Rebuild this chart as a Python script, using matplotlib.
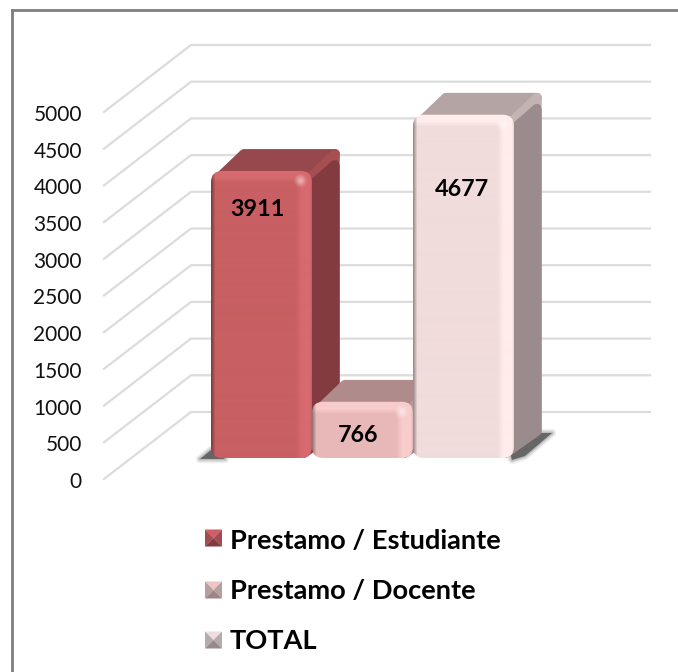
# 3D style bar chart, Prestamo
import numpy as np
import matplotlib.pyplot as plt
from matplotlib.patches import FancyBboxPatch, Polygon
from matplotlib.colors import to_rgb

categorias = ["Prestamo / Estudiante", "Prestamo / Docente", "TOTAL"]
valores = [3911, 766, 4677]
ticks = [0, 500, 1000, 1500, 2000, 2500, 3000, 3500, 4000, 4500, 5000]
frente = ["#C75F63", "#E8B8B8", "#F0DCDB"]
brillo = ["#D66A6E", "#F8CCCC", "#FFECEB"]
lado = ["#833B3F", "#9C7C7C", "#9A8C8C"]
arriba = ["#97484C", "#AF8B8B", "#B5A4A4"]
franja = ["#A64F53", "#BC9999", "#C4B3B3"]
leg_sup = ["#CF5F63", "#EFC4C4", "#EFDEDE"]
leg_lat = ["#A04C50", "#B5A0A0", "#B5ABAB"]
leg_inf = ["#7F3A3E", "#9D8585", "#978A8A"]

plt.rcParams["font.family"] = "Lato"

W, H = 678, 672
PX = 0.0734  # pixels per unit on the value axis
BASE = 458
fig = plt.figure(figsize=(W / 100, H / 100), dpi=100)
ax = fig.add_axes([0, 0, 1, 1])
ax.axis("off")

# conversions between picture pixels and data
def X(px):
    return (px - 261.5) / 101
def Y(py):
    return (BASE - py) / PX

asp = (1 / PX) / (1 / 101)
ux = 1 / 101
uy = 1 / PX

# frame, only top and left
ax.plot([X(12), X(678)], [Y(10), Y(10)], color="#7f7f7f", lw=2, zorder=1)
ax.plot([X(12), X(12)], [Y(10), Y(672)], color="#7f7f7f", lw=2, zorder=1)

# grid
for t in ticks:
    f = Y(479) + t
    b = Y(412) + t
    ax.plot([X(104), X(191), X(650)], [f, b, b], color="#DCDCDC", lw=1.6, zorder=2)
    ax.text(X(82), f - 3 * uy, str(t), ha="right", va="center", fontsize=15, color="#111111", zorder=9)

# floor shadow, soft edge from stacked strokes
sombra = [[(200, 459), (211, 450), (225, 459)], [(512, 460), (525, 456), (552, 433), (535, 433), (510, 452)]]
for pts in sombra:
    xy = [(X(a), Y(b)) for a, b in pts]
    for lw, al in [(6, 0.08), (4, 0.12), (2, 0.2)]:
        ax.add_patch(Polygon(xy, closed=True, fc="none", ec="#444444", lw=lw, alpha=al, joinstyle="round", zorder=3))
    ax.add_patch(Polygon(xy, closed=True, fc="#666666", ec="none", zorder=3))


def shade(w, h, i):
    # bevel on the front face, soft light bands and dark left edge
    yy, xx = np.mgrid[0:h, 0:w]
    f = np.array(to_rgb(frente[i]))
    l = np.array(to_rgb(brillo[i]))
    k = np.maximum(np.clip((12 - yy) / 5, 0, 1), np.clip((xx - (w - 17)) / 6, 0, 1))
    img = f + (l - f) * k[..., None]
    dark = np.clip((4 - xx) / 4, 0, 1) * 0.35
    img = img * (1 - dark[..., None])
    edge = np.clip((xx - (w - 3)) / 3, 0, 1) * 0.1
    img = img * (1 - edge[..., None])
    # small bright spot at the upper right corner
    d = np.hypot(xx - (w - 12), yy - 10)
    spot = np.clip((7 - d) / 6, 0, 1) * 0.45
    img = img + (1 - img) * spot[..., None]
    return np.clip(img, 0, 1)


dx = 28 * ux
dy = 22 * uy
ins_x = 5 * ux
ins_y = 5 * uy
for i, v in enumerate(valores):
    x0, x1 = i - 0.5, i + 0.5
    z = 4 + i
    # top face
    ax.add_patch(Polygon([(x0 + 2 * ins_x, v - ins_y), (x0 + dx + ins_x, v + dy - ins_y), (x1 + dx - ins_x, v + dy - ins_y), (x1, v - ins_y)],
                         closed=True, fc=arriba[i], ec=arriba[i], lw=7, joinstyle="round", zorder=z))
    # lighter strip between top and side
    ax.add_patch(Polygon([(x1, v - ins_y), (x1 + dx - ins_x, v + dy - ins_y), (x1 + dx - ins_x, v + dy - 12 * uy), (x1, v - 12 * uy)],
                         closed=True, fc=franja[i], ec=franja[i], lw=7, joinstyle="round", zorder=z))
    # side face
    ax.add_patch(Polygon([(x1 - 8 * ux, ins_y), (x1 + dx - ins_x, dy + ins_y), (x1 + dx - ins_x, v + dy - 16 * uy), (x1, v - 14 * uy)],
                         closed=True, fc=lado[i], ec=lado[i], lw=7, joinstyle="round", zorder=z + 0.1))
    # front face
    box = FancyBboxPatch((x0, 0), 1, v, boxstyle="round,pad=0,rounding_size=0.11", mutation_aspect=asp,
                         fc="none", ec="none", zorder=z + 0.2)
    ax.add_patch(box)
    im = ax.imshow(shade(101, int(v * PX), i), extent=(x0, x1, 0, v), aspect="auto", zorder=z + 0.3, interpolation="bilinear")
    im.set_clip_path(box)

ax.set_xlim(-2.589, 4.124)
ax.set_ylim(-(H - BASE) / PX, BASE / PX)

# data labels
lab_x = [257, 358, 462]
lab_y = [209, 436, 189]
for i, v in enumerate(valores):
    ax.text(X(lab_x[i]), Y(lab_y[i]), str(v), ha="center", va="center",
            fontsize=16.8, fontweight="bold", color="black", zorder=10)

# legend
leg_y = [540, 590, 640]
mark_y = [538, 590, 640]
for i, c in enumerate(categorias):
    x0, x1 = X(205), X(222)
    y0, y1 = Y(mark_y[i] + 8.5), Y(mark_y[i] - 8.5)
    xm, ym = (x0 + x1) / 2, (y0 + y1) / 2
    ax.add_patch(Polygon([(x0, y1), (x1, y1), (xm, ym)], fc=leg_sup[i], ec="none", zorder=6))
    ax.add_patch(Polygon([(x0, y1), (x0, y0), (xm, ym)], fc=leg_lat[i], ec="none", zorder=6))
    ax.add_patch(Polygon([(x1, y1), (x1, y0), (xm, ym)], fc=leg_lat[i], ec="none", zorder=6))
    ax.add_patch(Polygon([(x0, y0), (x1, y0), (xm, ym)], fc=leg_inf[i], ec="none", zorder=6))
    ax.text(X(230), Y(leg_y[i] + 1), c, ha="left", va="center", fontsize=19.6, fontweight="bold", color="black")

fig.savefig("out.png", dpi=100)
